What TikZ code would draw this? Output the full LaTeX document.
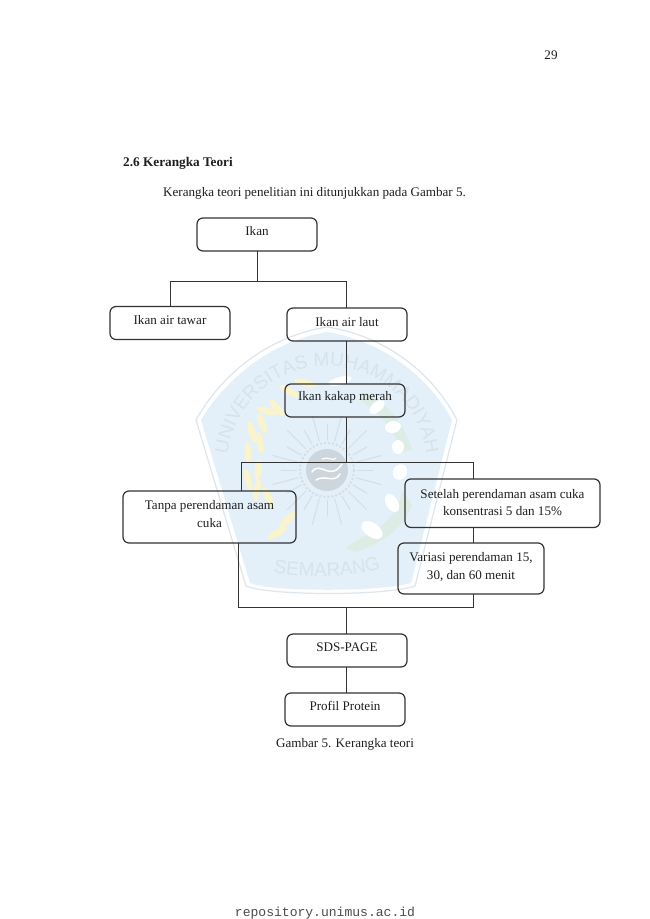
\documentclass[tikz,border=0pt]{standalone}
\usepackage{fontspec}
\setmainfont{Liberation Serif}
\setmonofont{Liberation Mono}
\newfontfamily\wmfont{Liberation Sans}
\usetikzlibrary{decorations.text}
\definecolor{wmfill}{HTML}{E3F0F9}
\definecolor{wmline}{HTML}{DCE6EE}
\definecolor{wmtext}{HTML}{D8E2EA}
\definecolor{wmsun}{HTML}{CDD6DD}
\definecolor{wmray}{HTML}{D3DEE7}
\definecolor{wmleaf}{HTML}{FAF4CC}
\definecolor{wmgreen}{HTML}{DDEDE6}
\definecolor{ink}{HTML}{333333}
\tikzset{
  x=1pt,y=-1pt,
  boxn/.style={draw=ink,line width=1.2pt,rounded corners=6pt,inner sep=0pt,minimum width=120pt,minimum height=33pt},
  lab/.style={font=\fontsize{13.1}{17.3}\selectfont,align=center,text=black!88,inner sep=0pt},
  plain/.style={font=\fontsize{13.1}{17.3}\selectfont,inner sep=0pt,text=black!88},
  conn/.style={draw=ink,line width=1.5pt,line cap=rect},
  ray/.style={draw=wmray,line width=1pt,line cap=round},
  leafy/.style={fill=wmleaf,draw=none},
  isle/.style={fill=white,draw=none}
}
\begin{document}
\begin{tikzpicture}
\useasboundingbox (0,0) rectangle (650,919);
\fill[white] (0,0) rectangle (650,919);
% watermark
\path[draw=wmline,line width=1.2pt,fill=white] (196,420) .. controls (225,368) and (275,335) .. (327,327) .. controls (380,335) and (430,368) .. (457,420)
  -- (415,586) .. controls (385,596) and (270,596) .. (246,586) -- cycle;
\path[fill=wmfill] (201,420) .. controls (230,372) and (278,340) .. (327,332) .. controls (377,340) and (426,372) .. (452,420)
  -- (411,583) .. controls (382,592) and (272,592) .. (250,583) -- cycle;
\path[decorate,decoration={text along path,text align=center,text={|\wmfont\fontsize{19}{19}\selectfont\color{wmtext}|UNIVERSITAS MUHAMMADIYAH}}]
  (227,466) arc[start angle=180,end angle=360,radius=100];
\path[decorate,decoration={text along path,text align=center,text={|\wmfont\fontsize{19}{19}\selectfont\color{wmtext}|SEMARANG}}]
  (268,571) .. controls (300,579) and (355,579) .. (386,567);
% sun
\foreach \a in {0,15,...,345}{
  \draw[ray] (327,470) ++(\a:30) -- ++(\a:{16+10*mod(\a/15,2)});
}
\draw[wmray,line width=2pt,dash pattern=on 2pt off 2pt] (327,470) circle[radius=27];
\fill[wmsun] (327,470) circle[radius=21];
\draw[white,line width=1.5pt,line cap=round] (312,472) .. controls (320,460) and (330,482) .. (342,464);
\draw[white,line width=1.5pt,line cap=round] (316,480) .. controls (325,474) and (334,484) .. (340,474);
\draw[white,line width=1.2pt,line cap=round] (322,459) .. controls (328,456) and (334,462) .. (336,458);
% leaves
\foreach \p/\r in {(305,383)/-15,(289,391)/-30,(277,408)/-50,(267,411)/-15,(262,423)/-70,(252,432)/-75,(260,443)/-80,(248,453)/-85,(258,470)/-95,(248,480)/-75,(257,490)/-100,(268,497)/-65,(287,520)/-135,(277,533)/-150}{
  \fill[leafy] \p ellipse[x radius=11pt,y radius=3.5pt,rotate=\r];
}
% islands
\fill[wmgreen] (345,548) .. controls (370,530) and (395,528) .. (402,490) -- (412,505) .. controls (400,535) and (375,545) .. (356,552) -- cycle;
\fill[wmgreen] (362,392) .. controls (385,398) and (405,425) .. (412,450) -- (402,452) .. controls (395,432) and (380,412) .. (362,402) -- cycle;
\foreach \p/\r/\a/\b in {(340,381)/15/12/4,(377,407)/40/9/5,(393,427)/10/8/6,(398,447)/0/6/7,(400,472)/-30/7/8,(392,503)/-60/10/6,(372,530)/-35/12/7}{
  \fill[isle] \p ellipse[x radius=\a pt,y radius=\b pt,rotate=\r];
}
% page texts
\node[plain,anchor=base] (pg) at (551,59) {29};
\node[plain,anchor=base west,font=\fontsize{13.25}{17.3}\selectfont\bfseries] (hd) at (123,166) {2.6 Kerangka Teori};
\node[plain,anchor=base west] (bd) at (163,196.5) {Kerangka teori penelitian ini ditunjukkan pada Gambar 5.};
\node[plain,anchor=base] (cap) at (345,747.5) {Gambar 5. Kerangka teori};
\node[plain,anchor=base,text=black!70,font=\fontsize{13.05}{15}\selectfont\ttfamily] (repo) at (325,916.5) {repository.unimus.ac.id};
% boxes
\node[boxn,label={[lab,yshift=3.5pt]center:Ikan}] (ikan) at (257,234.5) {};
\node[boxn,label={[lab,yshift=3pt]center:Ikan air tawar}] (tawar) at (170,323) {};
\node[boxn,label={[lab,yshift=2.5pt]center:Ikan air laut}] (laut) at (347,324.5) {};
\node[boxn,label={[lab,yshift=3.5pt]center:Ikan kakap merah}] (kakap) at (345,400.5) {};
\node[boxn,minimum width=173pt,minimum height=52pt,label={[lab,yshift=3pt]center:Tanpa perendaman asam\\cuka}] (tanpa) at (209.5,517) {};
\node[boxn,minimum width=195pt,minimum height=48.5pt,label={[lab,yshift=0.5pt]center:Setelah perendaman asam cuka\\konsentrasi 5 dan 15\%}] (setelah) at (502.5,503.2) {};
\node[boxn,minimum width=146pt,minimum height=51pt,label={[lab,yshift=1.5pt]center:Variasi perendaman 15,\\30, dan 60 menit}] (variasi) at (471,568.5) {};
\node[boxn,label={[lab,yshift=3.5pt]center:SDS-PAGE}] (sds) at (347,650.5) {};
\node[boxn,label={[lab,yshift=3.5pt]center:Profil Protein}] (profil) at (345,709.5) {};
% junctions
\coordinate (j1) at (257.5,281.5);
\coordinate (jt) at (170.5,281.5);
\coordinate (ju) at (346.5,281.5);
\coordinate (j2) at (346.5,462.5);
\coordinate (jl) at (241.5,462.5);
\coordinate (jr) at (473.5,462.5);
\coordinate (jb) at (346.5,607.5);
\coordinate (jbl) at (238.5,607.5);
\coordinate (jbr) at (473.5,607.5);
% connectors
\draw[conn] (ikan.south -| j1) -- (j1);
\draw[conn] (tawar.north -| jt) |- (j1);
\draw[conn] (laut.north -| ju) |- (j1);
\draw[conn] (laut.south -| j2) -- (kakap.north -| j2);
\draw[conn] (kakap.south -| j2) -- (j2);
\draw[conn] (jl |- tanpa.north) |- (j2);
\draw[conn] (jr |- setelah.north) |- (j2);
\draw[conn] (jr |- setelah.south) -- (jr |- variasi.north);
\draw[conn] (jbl |- tanpa.south) |- (jb);
\draw[conn] (jbr |- variasi.south) |- (jb);
\draw[conn] (jb) -- (sds.north -| jb);
\draw[conn] (sds.south -| j2) -- (profil.north -| j2);
\end{tikzpicture}
\end{document}
